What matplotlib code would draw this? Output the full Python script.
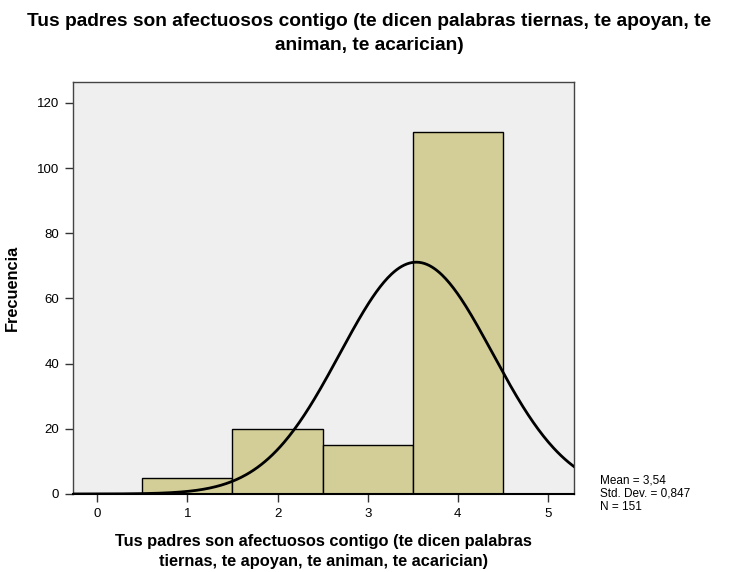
import numpy as np
import matplotlib.pyplot as plt

plt.rcParams['font.family'] = ['Liberation Sans', 'DejaVu Sans']

# datos del histograma
valores = [1, 2, 3, 4]
frecuencias = [5, 20, 15, 111]
media = 3.54
desv = 0.847
n = 151
ticks_x = [0, 1, 2, 3, 4, 5]
ticks_y = [0, 20, 40, 60, 80, 100, 120]

titulo = "Tus padres son afectuosos contigo (te dicen palabras tiernas, te apoyan, te\naniman, te acarician)"
etiqueta_x = "Tus padres son afectuosos contigo (te dicen palabras\ntiernas, te apoyan, te animan, te acarician)"

fig = plt.figure(figsize=(7.39, 5.72), dpi=100)
ax = fig.add_axes([0.0988, 0.1364, 0.6779, 0.7202])
ax.set_facecolor('#efefef')

ax.bar(valores, frecuencias, width=1.0, color='#d3ce97', edgecolor='black', linewidth=1.0, zorder=2)

# curva normal (ancho de barra = 1)
xs = np.linspace(-0.3, 5.3, 400)
ys = n / (desv * np.sqrt(2 * np.pi)) * np.exp(-0.5 * ((xs - media) / desv) ** 2)
ax.plot(xs, ys, color='black', linewidth=2.0, zorder=3)

ax.set_xlim(-0.27, 5.29)
ax.set_ylim(0, 126.4)
ax.set_xticks(ticks_x)
ax.set_yticks(ticks_y)
ax.tick_params(axis='both', direction='out', length=6, width=1, labelsize=9.5, pad=4, color='#333333')
for s in ax.spines.values():
    s.set_color('#444444')
    s.set_linewidth(1.0)
ax.spines['bottom'].set_color('black')
ax.spines['bottom'].set_linewidth(1.5)

ax.set_ylabel('Frecuencia', fontsize=11.8, fontweight='bold', labelpad=12)
ax.set_xlabel(etiqueta_x, fontsize=11.8, fontweight='bold', labelpad=10, linespacing=1.45)
fig.text(0.5, 0.977, titulo, ha='center', va='top', fontsize=13.8, fontweight='bold', linespacing=1.5)

fig.text(0.812, 0.17, "Mean = 3,54\nStd. Dev. = 0,847\nN = 151", fontsize=8.5, ha='left', va='top', linespacing=1.1)

fig.savefig('out.png', dpi=100)
